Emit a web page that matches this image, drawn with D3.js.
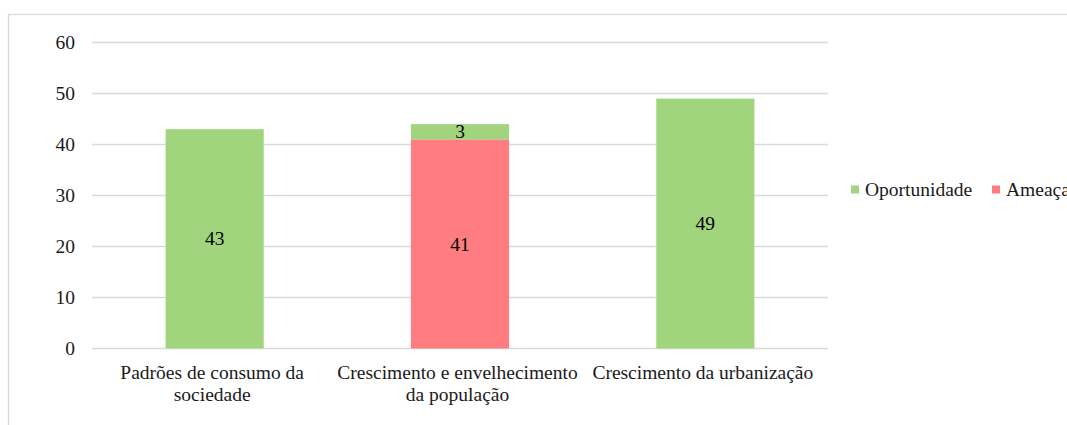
<!DOCTYPE html>
<html>
<head>
<meta charset="utf-8">
<script src="https://cdn.jsdelivr.net/npm/d3@7"></script>
<style>
  html, body { margin: 0; padding: 0; background: #fff; }
  svg text { font-family: 'Liberation Serif', 'DejaVu Serif', serif; }
</style>
</head>
<body>
<svg id="chart" width="1067" height="425"></svg>
<script>
const categories = ["Padrões de consumo da\nsociedade", "Crescimento e envelhecimento\nda população", "Crescimento da urbanização"];
const seriesNames = ["Oportunidade", "Ameaça"];
const oportunidade = [43, 3, 49];
const ameaca = [0, 41, 0];
const yTicks = [0, 10, 20, 30, 40, 50, 60];
const colors = { "Oportunidade": "#a0d57e", "Ameaça": "#ff7c80" };

const FONT = "'Liberation Serif', 'DejaVu Serif', serif";
const svg = d3.select("#chart");
const W = 1067, H = 425;
const plot = { left: 92, right: 828, top: 42.5, bottom: 348.5 };

// chart area border
svg.append("rect")
  .attr("x", 8.5).attr("y", 14.5)
  .attr("width", W + 20).attr("height", H + 20)
  .attr("fill", "none").attr("stroke", "#d9d9d9").attr("stroke-width", 1.3);

const x = d3.scaleBand().domain(categories).range([plot.left, plot.right]).padding(0);
const y = d3.scaleLinear().domain([0, 60]).range([plot.bottom, plot.top]);

// gridlines
svg.append("g").selectAll("line").data(yTicks).join("line")
  .attr("x1", plot.left).attr("x2", plot.right)
  .attr("y1", d => y(d)).attr("y2", d => y(d))
  .attr("stroke", "#d9d9d9").attr("stroke-width", 1.3);

// y tick labels
svg.append("g").selectAll("text").data(yTicks).join("text")
  .attr("x", 75).attr("y", d => y(d))
  .attr("dy", "0.34em")
  .attr("text-anchor", "end")
  .attr("font-family", FONT)
  .attr("font-size", 19.5)
  .attr("fill", "#1a1a1a")
  .text(d => d);

// stacked data
const rows = categories.map((c, i) => ({ cat: c, "Ameaça": ameaca[i], "Oportunidade": oportunidade[i] }));
const stack = d3.stack().keys(["Ameaça", "Oportunidade"])(rows);

const barW = x.bandwidth() * 0.4;
const barOff = (x.bandwidth() - barW) / 2;

stack.forEach(layer => {
  const g = svg.append("g");
  g.selectAll("rect").data(layer.filter(d => d[1] - d[0] > 0)).join("rect")
    .attr("x", d => x(d.data.cat) + barOff)
    .attr("width", barW)
    .attr("y", d => y(d[1]))
    .attr("height", d => y(d[0]) - y(d[1]))
    .attr("fill", colors[layer.key]);
  g.selectAll("text").data(layer.filter(d => d[1] - d[0] > 0)).join("text")
    .attr("x", d => x(d.data.cat) + x.bandwidth() / 2)
    .attr("y", d => (y(d[0]) + y(d[1])) / 2)
    .attr("dy", "0.34em")
    .attr("text-anchor", "middle")
    .attr("font-family", FONT)
    .attr("font-size", 19.5)
    .attr("fill", "#000")
    .text(d => d[1] - d[0]);
});

// category labels
const catG = svg.append("g");
categories.forEach(c => {
  const cx = x(c) + x.bandwidth() / 2 - 2.5;
  const t = catG.append("text")
    .attr("x", cx)
    .attr("y", 379)
    .attr("text-anchor", "middle")
    .attr("font-family", FONT)
    .attr("font-size", 19.5)
    .attr("fill", "#1a1a1a");
  c.split("\n").forEach((line, i) => {
    t.append("tspan")
      .attr("x", cx)
      .attr("dy", i === 0 ? 0 : 22)
      .text(line);
  });
});

// legend
const legendX = [851, 992];
const legend = svg.append("g");
seriesNames.forEach((s, i) => {
  legend.append("rect")
    .attr("x", legendX[i]).attr("y", 185.5)
    .attr("width", 8).attr("height", 8)
    .attr("fill", colors[s]);
  legend.append("text")
    .attr("x", legendX[i] + 14).attr("y", 196)
    .attr("font-family", FONT)
    .attr("font-size", 19.5)
    .attr("fill", "#1a1a1a")
    .text(s);
});
</script>
</body>
</html>
